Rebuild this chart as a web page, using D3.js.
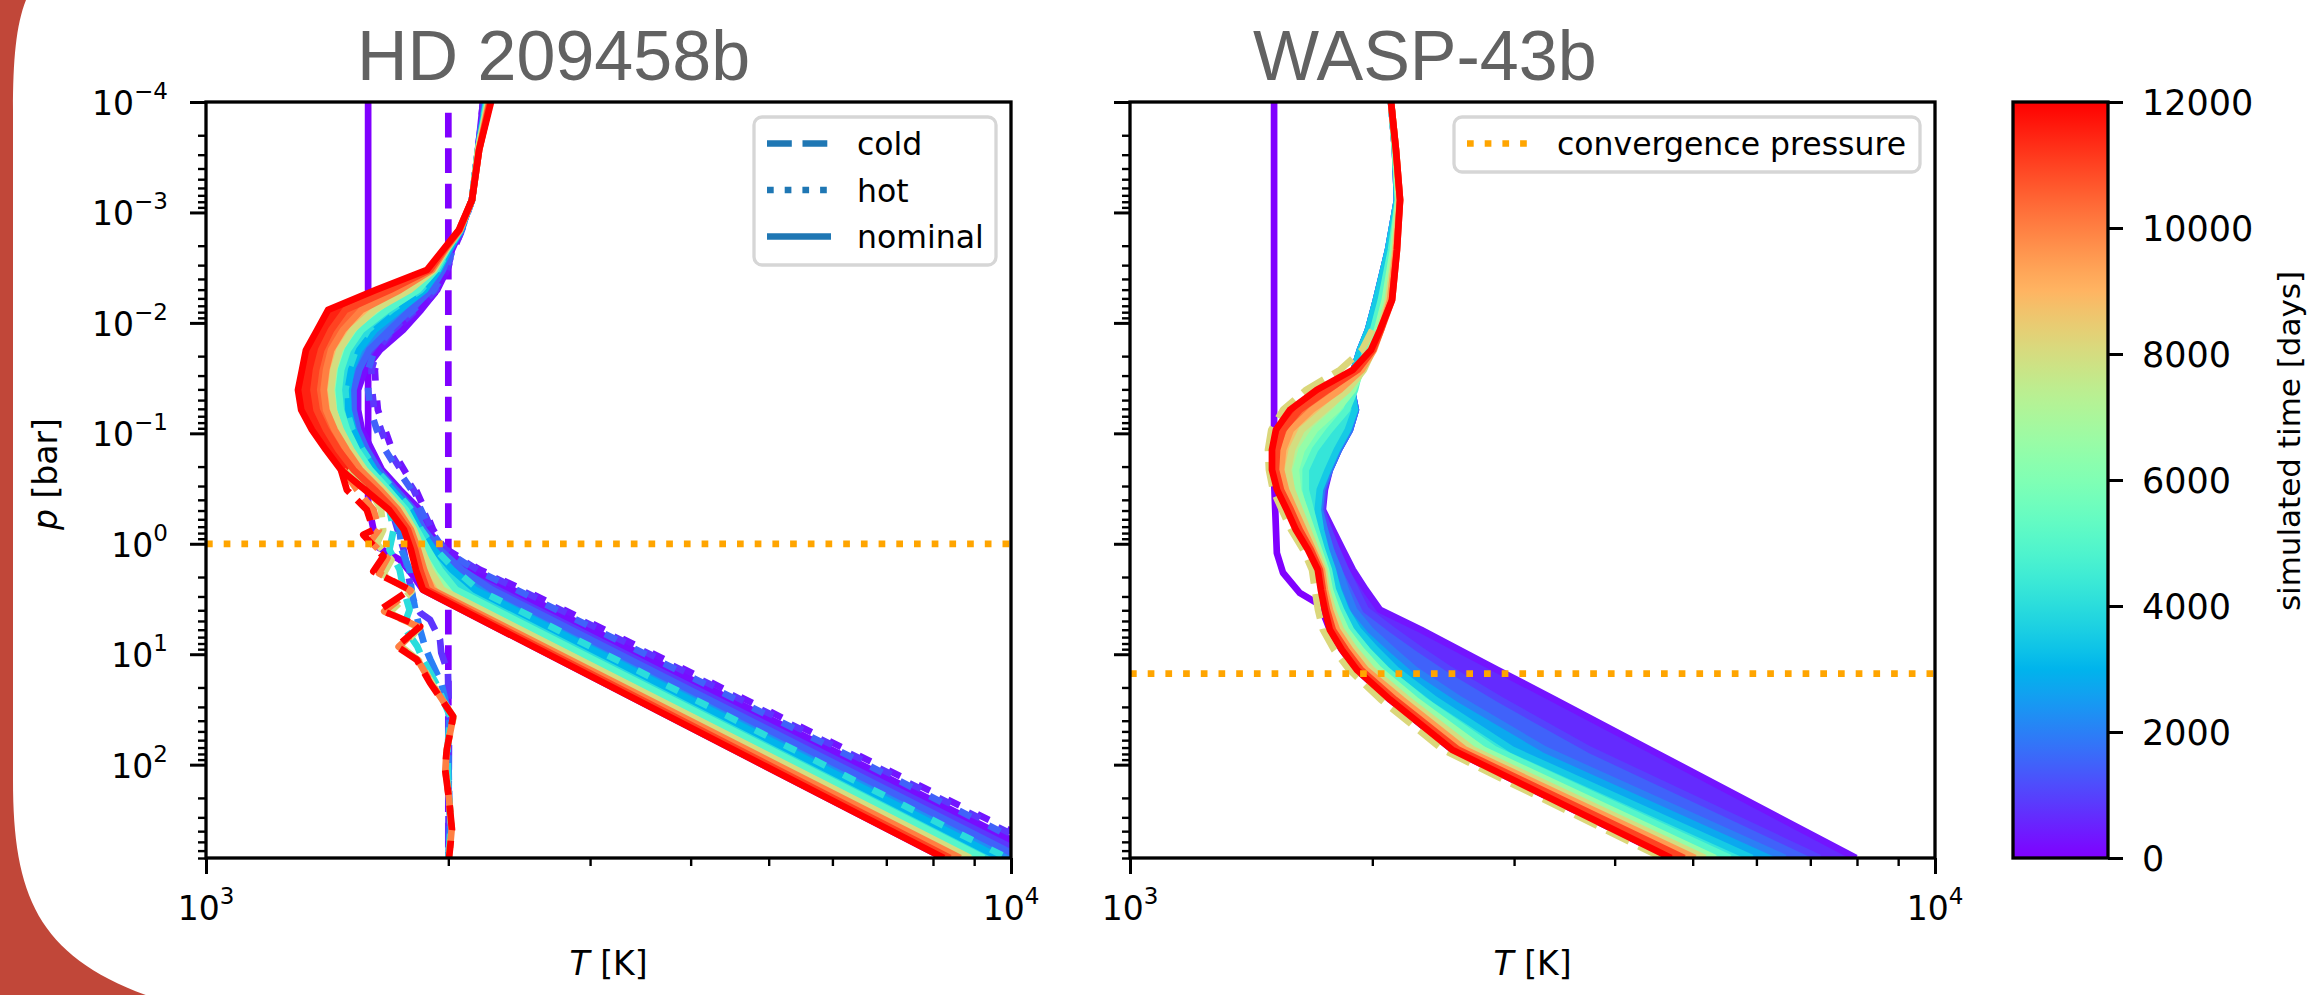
<!DOCTYPE html>
<html><head><meta charset="utf-8">
<script src="https://cdn.jsdelivr.net/npm/d3@7"></script>
<style>body{margin:0;background:#fff;} svg{display:block;}</style>
</head><body>
<svg id="chart" width="2316" height="995"></svg>
<script>
// ---------------- DATA ----------------
const tMax = 12000;
const colorbarTicks = [0, 2000, 4000, 6000, 8000, 10000, 12000];
const xMajorTicks = [1000, 10000];
const yMajorTicks = [1e-4, 1e-3, 1e-2, 1e-1, 1, 10, 100];

// Left panel: HD 209458b  (T in K on a pressure grid in bar)
const pGridLeft = [1e-4,2.72e-4,7.7e-4,1.44e-3,2.18e-3,3.31e-3,5.03e-3,7.63e-3,0.0116,0.0176,0.0266,0.0404,0.0613,0.093,0.141,0.214,0.325,0.493,0.747,1.13,1.72,2.61,700];
const nominalLeftTimes = [200,1500,3000,5000,8000,10000,11000,12000];
const nominalLeft_t200   = [2209,2177,2140,2074,2021,1993,1937,1850,1757,1645,1576,1545,1545,1562,1607,1654,1742,1845,1882,1976,2146,2403,11100];
const nominalLeft_t1500  = [2222,2177,2140,2074,2010,1970,1904,1795,1690,1595,1550,1525,1525,1545,1585,1640,1722,1813,1866,1953,2080,2267,10300];
const nominalLeft_t3000  = [2228,2177,2140,2074,2004,1948,1871,1740,1620,1550,1515,1500,1503,1525,1565,1620,1705,1792,1845,1920,2021,2159,9700];
const nominalLeft_t5000  = [2235,2177,2140,2068,1993,1931,1834,1680,1560,1500,1472,1462,1470,1497,1540,1600,1685,1772,1828,1887,1953,2045,9250];
const nominalLeft_t8000  = [2241,2177,2140,2068,1987,1920,1792,1620,1520,1465,1440,1430,1440,1470,1515,1575,1665,1752,1813,1855,1898,1965,8900];
const nominalLeft_t10000 = [2248,2184,2140,2068,1982,1909,1742,1560,1480,1430,1410,1400,1410,1445,1495,1555,1645,1732,1797,1834,1866,1909,8650];
const nominalLeft_t11000 = [2254,2184,2140,2062,1976,1898,1693,1490,1430,1390,1370,1360,1372,1410,1460,1525,1620,1712,1782,1818,1845,1882,8400];
const nominalLeft_t12000 = [2260,2184,2140,2062,1970,1882,1626,1418,1374,1331,1316,1301,1313,1354,1409,1471,1576,1688,1762,1797,1823,1860,8250];
const nominalLeft_t0 = [[1590,1e-4],[1590,0.43],[1631,1.06],[1742,1.40],[1813,1.99],[1860,2.61],[8250,700]];

const hotLeftTimes = [300,800,1500,4000];
const hotLeft_t300  = [2209,2177,2140,2080,2030,1995,1940,1840,1717,1645,1621,1626,1635,1669,1703,1762,1823,1871,1915,1993,2190,2480,11700];
const hotLeft_t800  = [2212,2177,2140,2079,2028,1990,1930,1825,1708,1632,1605,1608,1618,1650,1686,1746,1811,1860,1907,1984,2175,2455,11500];
const hotLeft_t1500 = [2215,2177,2140,2078,2025,1985,1920,1810,1700,1620,1590,1590,1600,1630,1670,1730,1800,1850,1900,1975,2160,2430,11300];
const hotLeft_t4000 = [2230,2177,2140,2072,2000,1940,1850,1700,1590,1535,1505,1490,1495,1520,1565,1625,1715,1800,1850,1930,2040,2180,9900];

const coldLeft_t0 = [[2000,1e-4],[2000,700]];
const coldLeftTimes = [800,2000,4000,8000,10000,12000];
const coldLeft_t800 = [[1700,0.49],[1760,1.13],[1790,2.2],[1808,3.21],[1845,4.21],[1898,4.87],[1953,7.39],[1960,9.7],[1998,14.7],[2004,40],[2000,700]];
const coldLeft_t2000 = [[1600,0.325],[1700,0.49],[1740,0.75],[1750,1.13],[1790,1.72],[1800,2.61],[1820,3.96],[1840,5.6],[1870,8.5],[1900,11.2],[1960,18.2],[2005,36.5],[2000,73],[2003,150],[2010,350],[2000,700]];
const coldLeft_t4000 = [[1560,0.214],[1640,0.33],[1690,0.49],[1710,0.75],[1690,1.13],[1740,1.72],[1760,2.61],[1790,3.96],[1760,5.6],[1830,8.5],[1860,11.2],[1930,18.2],[2010,36.5],[1995,73],[2000,150],[2015,350],[2000,700]];
const coldLeft_t8000 = [[1500,0.214],[1600,0.33],[1650,0.49],[1660,0.75],[1630,1.0],[1700,1.4],[1660,1.9],[1800,2.7],[1690,4.2],[1840,5.8],[1750,8.6],[1840,11.5],[1910,18.5],[2030,37],[1990,75],[1985,115],[2006,210],[2018,390],[2004,700]];
const coldLeft_t10000 = [[1480,0.214],[1540,0.325],[1615,0.493],[1640,0.747],[1600,0.95],[1680,1.35],[1640,1.85],[1795,2.65],[1665,4.1],[1843,5.7],[1735,8.55],[1833,11.3],[1905,18.3],[2029,36.8],[1990,74],[1983,113],[2005,208],[2019,388],[2004,700]];
const coldLeft_t12000 = [[1471,0.214],[1496,0.325],[1584,0.493],[1614,0.747],[1568,0.83],[1661,1.30],[1614,1.78],[1792,2.61],[1645,3.96],[1845,5.6],[1726,8.5],[1827,11.2],[1898,18.2],[2028,36.5],[1991,73],[1982,111],[2004,207],[2021,387],[2004,700]];
const convergenceLeft = 1.0;

// Right panel: WASP-43b
const pGridRight = [1e-4,2.72e-4,7.7e-4,2.18e-3,6.19e-3,0.0116,0.0176,0.0266,0.0404,0.0613,0.093,0.141,0.214,0.325,0.493,0.747,1.13,1.72,2.61,3.96,6.0,9.1,13.8,25.8,73.1,700];
const nominalRightTimes = [300,1000,2000,3500,5000,6500,8000,9500,11000,12000];
const nominalRight_t300   = [2110,2134,2146,2092,2021,1975,1930,1897,1886,1908,1876,1817,1771,1746,1736,1786,1838,1892,1963,2044,2299,2563,2858,3373,4425,7978];
const nominalRight_t1000  = [2110,2134,2146,2092,2021,1975,1930,1897,1886,1908,1876,1817,1771,1741,1731,1766,1807,1854,1908,1963,2116,2293,2498,2882,3722,7193];
const nominalRight_t2000  = [2110,2134,2146,2092,2021,1975,1930,1897,1886,1908,1876,1817,1771,1731,1721,1746,1776,1817,1854,1897,1987,2116,2260,2571,3277,6513];
const nominalRight_t3500  = [2110,2134,2146,2092,2021,1975,1930,1897,1886,1903,1865,1807,1761,1721,1711,1726,1751,1786,1812,1854,1919,2021,2140,2393,2982,5927];
const nominalRight_t5000  = [2110,2134,2153,2110,2050,2004,1963,1930,1903,1859,1771,1697,1653,1653,1677,1702,1731,1766,1786,1828,1881,1969,2080,2312,2842,5565];
const nominalRight_t6500  = [2110,2134,2153,2122,2073,2027,1987,1941,1892,1807,1697,1634,1607,1616,1649,1682,1716,1751,1771,1807,1854,1936,2039,2260,2745,5331];
const nominalRight_t8000  = [2110,2140,2159,2134,2092,2044,2004,1952,1865,1746,1634,1589,1571,1589,1625,1663,1702,1741,1756,1786,1828,1903,1998,2215,2668,5181];
const nominalRight_t9500  = [2110,2140,2165,2140,2104,2050,2009,1941,1823,1682,1584,1549,1540,1562,1602,1644,1687,1731,1746,1771,1807,1876,1963,2177,2608,5035];
const nominalRight_t11000 = [2110,2140,2165,2146,2116,2050,2004,1919,1761,1625,1549,1523,1518,1540,1584,1625,1677,1721,1736,1756,1786,1854,1936,2134,2556,4880];
const nominalRight_t12000 = [2110,2140,2165,2146,2116,2044,1992,1892,1706,1580,1518,1501,1501,1523,1566,1607,1663,1711,1726,1746,1771,1833,1913,2104,2512,4700];
const nominalRight_t0 = [[1510,1e-4],[1510,0.264],[1522,1.21],[1549,1.83],[1625,2.78],[1722,3.57],[1771,6.0],[1833,9.1],[1913,13.8],[2104,25.8],[2512,73.1],[4700,700]];
const referenceRightTime = 8160;
const referenceRight = [[1999,0.0116],[1942,0.0176],[1824,0.0266],[1655,0.0404],[1549,0.0613],[1498,0.093],[1484,0.141],[1488,0.214],[1505,0.325],[1544,0.493],[1585,0.747],[1641,1.13],[1683,1.72],[1697,2.61],[1712,3.96],[1736,6.0],[1792,9.1],[1872,13.8],[2049,25.8],[2447,73.1],[4589,700]];
const convergenceRight = 15.0;

// ---------------- RENDER ----------------
const svg = d3.select("#chart");
const Y0 = 102, Y1 = 858;
const y = d3.scaleLog().domain([1e-4, 700]).range([Y0, Y1]);
const LW = 6.7;
const dashes = {solid: null, dashed: "24.8,10.7", dotted: "6.7,11", hotdot: "13,20"};
const FONT = "DejaVu Sans";

function rainbow(v) {
  const x = Math.max(0, Math.min(1, v));
  const r = Math.min(1, Math.abs(2 * x - 0.5));
  const g = Math.sin(Math.PI * x);
  const b = Math.cos(Math.PI * x / 2);
  return d3.rgb(r * 255, g * 255, b * 255).formatHex();
}
const zip = (Ts, grid) => Ts.map((T, i) => [T, grid[i]]);

// decorative slide edge
svg.append("path")
  .attr("d", "M0,0 L26,0 C16,25 13,60 13,110 L13,780 C13,900 40,960 160,1000 L0,1000 Z")
  .attr("fill", "#c14739");

function supLabel(sel, exp) {
  sel.append("tspan").text("10");
  sel.append("tspan").attr("dy", -16).attr("font-size", 23)
    .text(exp < 0 ? "\u2212" + (-exp) : String(exp));
}

function panel(cfg) {
  const x = d3.scaleLog().domain([1000, 10000]).range([cfg.x0, cfg.x1]);
  const line = d3.line().x(d => x(d[0])).y(d => y(d[1]));
  const clipId = "clip" + cfg.id;
  svg.append("clipPath").attr("id", clipId).append("rect")
    .attr("x", cfg.x0).attr("y", Y0).attr("width", cfg.x1 - cfg.x0).attr("height", Y1 - Y0);
  const g = svg.append("g").attr("clip-path", `url(#${clipId})`);

  cfg.initial.forEach(L => {
    g.append("path").attr("d", line(L.data)).attr("fill", "none")
      .attr("stroke", rainbow(0)).attr("stroke-width", LW)
      .attr("stroke-dasharray", dashes[L.style]).attr("stroke-dashoffset", L.offset || 0)
      .attr("stroke-linejoin", "round");
  });

  const prof = cfg.nominal;
  for (let i = 0; i < prof.length - 1; i++) {
    const poly = prof[i].data.concat(prof[i + 1].data.slice().reverse());
    const c = rainbow((prof[i].t + prof[i + 1].t) / 2 / tMax);
    g.append("path").attr("d", line(poly) + "Z").attr("fill", c)
      .attr("stroke", c).attr("stroke-width", 1.5).attr("stroke-linejoin", "round");
  }

  const lines = cfg.nominal.map(p => ({...p, style: "solid", order: 2}))
    .concat(cfg.extra)
    .sort((a, b) => a.t - b.t || a.order - b.order);
  lines.forEach(L => {
    g.append("path").attr("d", line(L.data)).attr("fill", "none")
      .attr("stroke", rainbow(L.t / tMax)).attr("stroke-width", LW)
      .attr("stroke-dasharray", dashes[L.style]).attr("stroke-dashoffset", L.offset || 0)
      .attr("stroke-linejoin", "round").attr("stroke-linecap", "butt");
  });

  g.append("line").attr("x1", cfg.x0).attr("x2", cfg.x1)
    .attr("y1", y(cfg.conv)).attr("y2", y(cfg.conv))
    .attr("stroke", "#ffa500").attr("stroke-width", LW).attr("stroke-dasharray", dashes.dotted);

  const yMinor = [];
  for (let k = -4; k <= 2; k++) for (let m = 2; m <= 9; m++) { const v = m * Math.pow(10, k); if (v <= 700) yMinor.push(v); }
  const xMinor = d3.range(2000, 10000, 1000);
  const style = (sel, w) => { sel.select(".domain").remove(); sel.selectAll("line").attr("stroke", "#000").attr("stroke-width", w); sel.selectAll("text").remove(); };
  svg.append("g").attr("transform", `translate(${cfg.x0},0)`)
    .call(d3.axisLeft(y).tickValues(yMajorTicks).tickSize(16).tickFormat(""))
    .call(s => style(s, 3));
  svg.append("g").attr("transform", `translate(${cfg.x0},0)`)
    .call(d3.axisLeft(y).tickValues(yMinor).tickSize(8).tickFormat(""))
    .call(s => style(s, 2.4));
  svg.append("g").attr("transform", `translate(0,${Y1})`)
    .call(d3.axisBottom(x).tickValues(xMajorTicks).tickSize(16).tickFormat(""))
    .call(s => style(s, 3));
  svg.append("g").attr("transform", `translate(0,${Y1})`)
    .call(d3.axisBottom(x).tickValues(xMinor).tickSize(8).tickFormat(""))
    .call(s => style(s, 2.4));

  svg.append("rect").attr("x", cfg.x0).attr("y", Y0).attr("width", cfg.x1 - cfg.x0).attr("height", Y1 - Y0)
    .attr("fill", "none").attr("stroke", "#000").attr("stroke-width", 3.3);

  xMajorTicks.forEach(v => {
    svg.append("text").attr("x", x(v)).attr("y", 920).attr("text-anchor", "middle")
      .attr("font-family", FONT).attr("font-size", 33).call(s => supLabel(s, Math.round(Math.log10(v))));
  });
  if (cfg.yLabels) {
    yMajorTicks.forEach(v => {
      svg.append("text").attr("x", 168).attr("y", y(v) + 13).attr("text-anchor", "end")
        .attr("font-family", FONT).attr("font-size", 33).call(s => supLabel(s, Math.round(Math.log10(v))));
    });
    const yl = svg.append("text").attr("transform", "translate(57,474) rotate(-90)")
      .attr("text-anchor", "middle").attr("font-family", FONT).attr("font-size", 33);
    yl.append("tspan").attr("font-style", "italic").text("p");
    yl.append("tspan").text(" [bar]");
  }
  const xl = svg.append("text").attr("x", (cfg.x0 + cfg.x1) / 2).attr("y", 975)
    .attr("text-anchor", "middle").attr("font-family", FONT).attr("font-size", 33);
  xl.append("tspan").attr("font-style", "italic").text("T");
  xl.append("tspan").text(" [K]");

  svg.append("text").attr("x", cfg.titleX).attr("y", 80)
    .attr("font-family", "Liberation Sans, Arial, sans-serif").attr("font-size", 70)
    .attr("fill", "#626262").text(cfg.title);

  const lg = cfg.legend;
  const bw = lg.width, bh = 55 + 46.5 * (lg.items.length - 1);
  const bx = cfg.x1 - 15 - bw, by = 117;
  svg.append("rect").attr("x", bx).attr("y", by).attr("width", bw).attr("height", bh).attr("rx", 8)
    .attr("fill", "#fff").attr("fill-opacity", 0.8).attr("stroke", "#d6d6d6").attr("stroke-width", 3.3);
  lg.items.forEach((it, i) => {
    const cy = by + 26.5 + 46.5 * i;
    svg.append("line").attr("x1", bx + 13).attr("x2", bx + 77).attr("y1", cy).attr("y2", cy)
      .attr("stroke", it.color).attr("stroke-width", LW).attr("stroke-dasharray", dashes[it.style]);
    svg.append("text").attr("x", bx + 103).attr("y", cy + 11.5).attr("font-family", FONT)
      .attr("font-size", 31.5).text(it.label);
  });
}

const leftNominal = [nominalLeft_t200, nominalLeft_t1500, nominalLeft_t3000, nominalLeft_t5000,
  nominalLeft_t8000, nominalLeft_t10000, nominalLeft_t11000, nominalLeft_t12000]
  .map((Ts, i) => ({t: nominalLeftTimes[i], data: zip(Ts, pGridLeft)}));
const hotOffsets = [0, 5, 10, 0];
const leftHot = [hotLeft_t300, hotLeft_t800, hotLeft_t1500, hotLeft_t4000]
  .map((Ts, i) => ({t: hotLeftTimes[i], data: zip(Ts, pGridLeft), style: "hotdot", order: 1, offset: hotOffsets[i]}));
const leftCold = [coldLeft_t800, coldLeft_t2000, coldLeft_t4000, coldLeft_t8000, coldLeft_t10000, coldLeft_t12000]
  .map((d, i) => ({t: coldLeftTimes[i], data: d, style: "dashed", order: 0}));

panel({
  id: "L", x0: 206, x1: 1011, title: "HD 209458b", titleX: 357, yLabels: true,
  initial: [{data: coldLeft_t0, style: "dashed", offset: 24.8}, {data: nominalLeft_t0, style: "solid"}],
  nominal: leftNominal, extra: leftHot.concat(leftCold), conv: convergenceLeft,
  legend: {width: 242, items: [
    {label: "cold", style: "dashed", color: "#1f77b4"},
    {label: "hot", style: "dotted", color: "#1f77b4"},
    {label: "nominal", style: "solid", color: "#1f77b4"}]}
});

const rightNominal = [nominalRight_t300, nominalRight_t1000, nominalRight_t2000, nominalRight_t3500,
  nominalRight_t5000, nominalRight_t6500, nominalRight_t8000, nominalRight_t9500, nominalRight_t11000, nominalRight_t12000]
  .map((Ts, i) => ({t: nominalRightTimes[i], data: zip(Ts, pGridRight)}));

panel({
  id: "R", x0: 1130, x1: 1935, title: "WASP-43b", titleX: 1253, yLabels: false,
  initial: [{data: nominalRight_t0, style: "solid"}],
  nominal: rightNominal,
  extra: [{t: referenceRightTime, data: referenceRight, style: "dashed", order: 0}],
  conv: convergenceRight,
  legend: {width: 466, items: [{label: "convergence pressure", style: "dotted", color: "#ffa500"}]}
});

// colorbar
const cb = {x0: 2013, x1: 2108};
const c = d3.scaleLinear().domain([0, tMax]).range([Y1, Y0]);
const grad = svg.append("defs").append("linearGradient").attr("id", "cbg")
  .attr("x1", 0).attr("y1", 1).attr("x2", 0).attr("y2", 0);
d3.range(0, 1.0001, 0.025).forEach(v => grad.append("stop").attr("offset", v).attr("stop-color", rainbow(v)));
svg.append("rect").attr("x", cb.x0).attr("y", Y0).attr("width", cb.x1 - cb.x0).attr("height", Y1 - Y0)
  .attr("fill", "url(#cbg)").attr("stroke", "#000").attr("stroke-width", 3.3);
svg.append("g").attr("transform", `translate(${cb.x1},0)`)
  .call(d3.axisRight(c).tickValues(colorbarTicks).tickSize(15).tickFormat(d3.format("d")))
  .call(s => {
    s.select(".domain").remove();
    s.selectAll("line").attr("stroke", "#000").attr("stroke-width", 3);
    s.selectAll("text").attr("font-family", FONT).attr("font-size", 35).attr("fill", "#000")
      .attr("x", 34).attr("dy", "0.36em");
  });
svg.append("text").attr("transform", "translate(2300,441) rotate(-90)").attr("text-anchor", "middle")
  .attr("font-family", FONT).attr("font-size", 31).text("simulated time [days]");
</script>
</body></html>
